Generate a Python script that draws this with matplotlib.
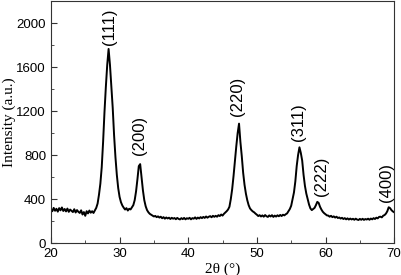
import numpy as np
import matplotlib.pyplot as plt

# 2-theta grid (0.2 deg step) and intensities
two_theta = np.round(np.arange(20.0, 70.01, 0.2), 1)
intensity = [
    305, 290, 320, 294, 312, 286, 318, 298, 324, 292,    # 20.0 - 21.8
    310, 288, 314, 284, 305, 293, 282, 308, 278, 300,    # 22.0 - 23.8
    284, 274, 298, 260, 282, 248, 290, 270, 296, 276,    # 24.0 - 25.8
    290, 274, 298, 320, 360, 440, 540, 690, 920, 1190,   # 26.0 - 27.8
    1420, 1620, 1765, 1620, 1420, 1230, 980, 780, 620, 500,  # 28.0 - 29.8
    420, 372, 342, 322, 305, 318, 296, 312, 306, 325,    # 30.0 - 31.8
    345, 390, 470, 580, 700, 718, 600, 480, 390, 335,    # 32.0 - 33.8
    300, 280, 266, 258, 250, 242, 247, 236, 243, 232,    # 34.0 - 35.8
    240, 226, 236, 222, 233, 224, 231, 219, 230, 222,    # 36.0 - 37.8
    228, 217, 229, 220, 215, 227, 218, 229, 216, 226,    # 38.0 - 39.8
    221, 230, 216, 227, 222, 234, 220, 232, 224, 236,    # 40.0 - 41.8
    227, 238, 229, 242, 231, 240, 245, 235, 248, 239,    # 42.0 - 43.8
    248, 240, 254, 246, 260, 250, 266, 278, 290, 305,    # 44.0 - 45.8
    330, 400, 490, 610, 750, 880, 1000, 1086, 920, 790,  # 46.0 - 47.8
    640, 530, 450, 390, 345, 315, 300, 288, 280, 268,    # 48.0 - 49.8
    258, 246, 254, 242, 252, 240, 255, 244, 238, 252,    # 50.0 - 51.8
    242, 254, 238, 250, 241, 253, 244, 256, 246, 258,    # 52.0 - 53.8
    252, 262, 270, 290, 310, 340, 400, 460, 560, 700,    # 54.0 - 55.8
    800, 871, 820, 750, 620, 520, 450, 400, 350, 315,    # 56.0 - 57.8
    300, 310, 320, 345, 375, 365, 330, 305, 285, 272,    # 58.0 - 59.8
    262, 252, 250, 240, 248, 236, 243, 232, 240, 228,    # 60.0 - 61.8
    233, 223, 230, 219, 227, 216, 225, 214, 223, 215,    # 62.0 - 63.8
    221, 212, 222, 214, 210, 220, 212, 221, 211, 219,    # 64.0 - 65.8
    214, 222, 212, 223, 216, 227, 219, 231, 225, 238,    # 66.0 - 67.8
    240, 234, 249, 255, 268, 290, 326, 318, 300, 288,    # 68.0 - 69.8
    280,                                                 # 70.0
]

# peak labels and the point where each text starts
peak_labels = ['(111)', '(200)', '(220)', '(311)', '(222)', '(400)']
peak_pos = [28.6, 32.9, 47.2, 56.0, 59.4, 68.9]
peak_height = [1800, 800, 1160, 925, 430, 370]

fig = plt.figure(figsize=(4.01, 2.75), dpi=100)
ax = fig.add_axes([0.127, 0.116, 0.856, 0.88])

ax.plot(two_theta, intensity, color='black', lw=1.4)

for lab, xp, yp in zip(peak_labels, peak_pos, peak_height):
    ax.text(xp, yp, lab, rotation=90, ha='center', va='bottom',
            fontsize=12, family='Liberation Sans')

ax.set_xlim(20, 70)
ax.set_ylim(0, 2200)
ax.set_xticks([20, 30, 40, 50, 60, 70])
ax.set_xticks(np.arange(25, 70, 10), minor=True)
ax.set_yticks([0, 400, 800, 1200, 1600, 2000])
ax.set_yticks(np.arange(200, 2200, 400), minor=True)
ax.tick_params(which='both', direction='in', labelsize=9.5, color='#333333')
ax.tick_params(which='major', length=4)
ax.tick_params(which='minor', length=2.5)
for lbl in ax.get_xticklabels() + ax.get_yticklabels():
    lbl.set_family('Liberation Sans')
for sp in ax.spines.values():
    sp.set_color('#333333')

ax.set_xlabel('2θ (°)', family='Liberation Serif', fontsize=11, labelpad=2)
ax.set_ylabel('Intensity (a.u.)', family='Liberation Serif', fontsize=11)
ax.yaxis.set_label_coords(-0.103, 0.5)

fig.savefig('out.png', dpi=100)
